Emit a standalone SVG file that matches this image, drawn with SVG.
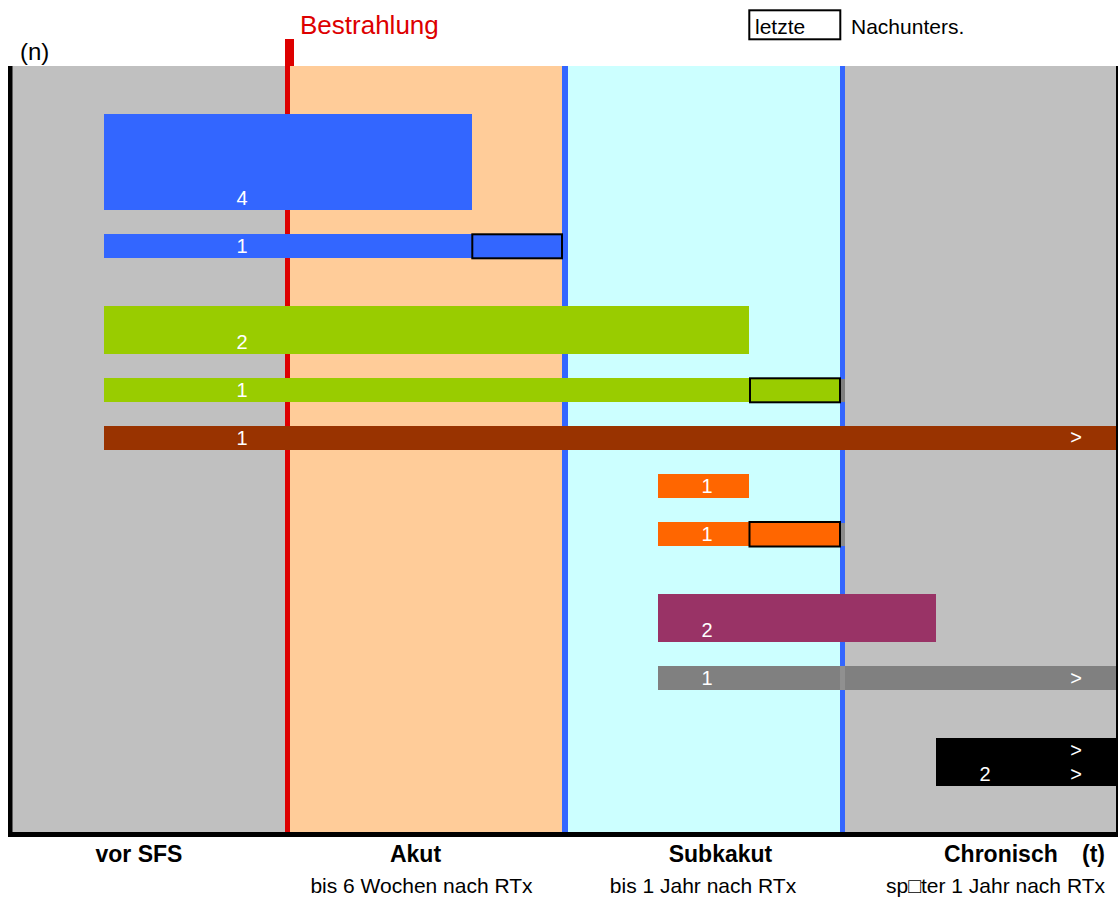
<svg xmlns="http://www.w3.org/2000/svg" width="1118" height="897" viewBox="0 0 1118 897">
<style>
text{font-family:"Liberation Sans",Arial,"DejaVu Sans",sans-serif}
.num{font-size:20px;fill:#fff;text-anchor:middle}
.ph{font-size:23px;font-weight:bold;fill:#000;text-anchor:middle}
.sub{font-size:21px;fill:#000;text-anchor:middle}
.st{text-anchor:start}
.en{text-anchor:end}
.box{fill:none;stroke:#000;stroke-width:2}
</style>
<rect width="1118" height="897" fill="#fff"/>
<g id="background">
<rect x="8" y="66" width="1110" height="767" fill="#C0C0C0"/>
<rect x="290" y="66" width="272" height="767" fill="#FFCC99"/>
<rect x="568" y="66" width="272" height="767" fill="#CCFFFF"/>
</g>
<g id="phase-lines">
<rect x="285" y="39" width="9" height="27" fill="#DD0000"/>
<rect x="285" y="66" width="5" height="767" fill="#DD0000"/>
<rect x="562" y="66" width="6" height="767" fill="#3366FF"/>
<rect x="840" y="66" width="5" height="767" fill="#3366FF"/>
</g>
<g id="axes">
<rect x="8" y="66" width="4.5" height="771" fill="#000"/>
<rect x="8" y="832" width="1110" height="5" fill="#000"/>
<rect x="1116" y="66" width="2" height="771" fill="#000"/>
</g>
<g id="connectors"/>
<g id="bar-blue-4">
<rect x="104" y="114" width="368" height="96" fill="#3366FF"/>
<text class="num" x="242" y="205">4</text>
</g>
<g id="bar-blue-1">
<rect x="104" y="234" width="458" height="24" fill="#3366FF"/>
<rect class="box" x="472.3" y="234.3" width="89.7" height="24"/>
<text class="num" x="242" y="253">1</text>
</g>
<g id="bar-green-2">
<rect x="104" y="306" width="645" height="48" fill="#99CC00"/>
<text class="num" x="242" y="349">2</text>
</g>
<g id="bar-green-1">
<rect x="104" y="378" width="737" height="24" fill="#99CC00"/>
<rect x="841" y="379" width="4" height="23" fill="#7F7F7F"/>
<rect class="box" x="750" y="378.3" width="90" height="24"/>
<text class="num" x="242" y="397">1</text>
</g>
<g id="bar-brown-1">
<rect x="104" y="426" width="1012" height="24" fill="#993300"/>
<text class="num" x="242" y="445">1</text>
<text class="num" x="1076" y="444">&gt;</text>
</g>
<g id="bar-orange-1a">
<rect x="658" y="474" width="91" height="24" fill="#FF6600"/>
<text class="num" x="707" y="493">1</text>
</g>
<g id="bar-orange-1b">
<rect x="658" y="522" width="183" height="24" fill="#FF6600"/>
<rect x="841" y="523" width="4" height="23" fill="#8A8A8A"/>
<rect class="box" x="749.5" y="522" width="90.5" height="24.5"/>
<text class="num" x="707" y="541">1</text>
</g>
<g id="bar-purple-2">
<rect x="658" y="594" width="278" height="48" fill="#993366"/>
<text class="num" x="707" y="637">2</text>
</g>
<g id="bar-grey-1">
<rect x="658" y="666" width="458" height="24" fill="#808080"/>
<rect x="840" y="666" width="5" height="24" fill="#909090"/>
<text class="num" x="707" y="685">1</text>
<text class="num" x="1076" y="685">&gt;</text>
</g>
<g id="bar-black-2">
<rect x="936" y="738" width="180" height="48" fill="#000"/>
<text class="num" x="1076" y="757">&gt;</text>
<text class="num" x="985" y="781">2</text>
<text class="num" x="1076" y="781">&gt;</text>
</g>
<g id="title-labels">
<text x="300" y="34" font-size="26" fill="#DD0000">Bestrahlung</text>
<text x="20" y="60" font-size="24" fill="#000">(n)</text>
</g>
<g id="legend">
<rect class="box" x="749.3" y="10.3" width="91" height="29" fill="#fff"/>
<text x="755" y="34" font-size="21" fill="#000">letzte</text>
<text x="851" y="34" font-size="21" fill="#000">Nachunters.</text>
</g>
<g id="phase-labels">
<text class="ph" x="139" y="862">vor SFS</text>
<text class="ph" x="415.5" y="862">Akut</text>
<text class="ph" x="720.5" y="862">Subkakut</text>
<text class="ph st" x="944" y="862">Chronisch</text>
<text class="ph st" x="1082" y="862">(t)</text>
<text class="sub" x="421.5" y="893">bis 6 Wochen nach RTx</text>
<text class="sub" x="703" y="893">bis 1 Jahr nach RTx</text>
<text class="sub en" x="1105" y="893">sp□ter 1 Jahr nach RTx</text>
</g>
</svg>
